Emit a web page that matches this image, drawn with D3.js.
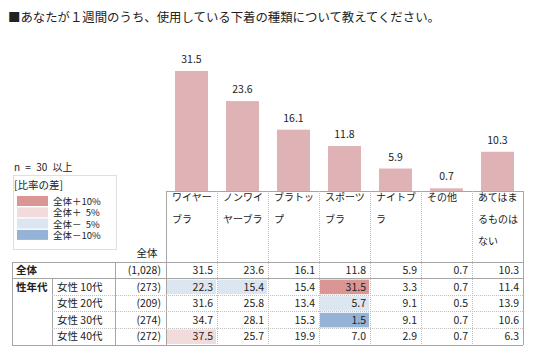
<!DOCTYPE html>
<html><head><meta charset="utf-8">
<script src="https://cdn.jsdelivr.net/npm/d3@7"></script>
<style>body{margin:0;background:#fff}svg{display:block}text{font-family:"Noto Sans CJK JP","Noto Sans",sans-serif;fill:#222}</style>
</head><body><svg id="c" width="536" height="360"></svg>
<script>
const title = "■あなたが１週間のうち、使用している下着の種類について教えてください。";
const categories = ["ワイヤーブラ","ノンワイヤーブラ","ブラトップ","スポーツブラ","ナイトブラ","その他","あてはまるものはない"];
const totalN = "(1,028)";
const totalValues = [31.5,23.6,16.1,11.8,5.9,0.7,10.3];
const groupLabel = "性年代";
const rowLabels = ["女性 10代","女性 20代","女性 30代","女性 40代"];
const rowN = ["(273)","(209)","(274)","(272)"];
const rowValues = [
  [22.3,15.4,15.4,31.5,3.3,0.7,11.4],
  [31.6,25.8,13.4,5.7,9.1,0.5,13.9],
  [34.7,28.1,15.3,1.5,9.1,0.7,10.6],
  [37.5,25.7,19.9,7.0,2.9,0.7,6.3]
];
const legendLabels = ["全体＋10%","全体＋ 5%","全体－ 5%","全体－10%"];
const legendColors = ["#d99694","#f2dcdb","#dce6f1","#95b3d7"];

const svg = d3.select("#c");
const tblL = 12, col1 = 52, colN = 115, dataL = 166, dataR = 523;
const headTop = 191, headBot = 262, rowH = 16.6;
const x = d3.scaleBand().domain(d3.range(categories.length)).range([dataL, dataR]).padding(0);
const y = d3.scaleLinear().domain([0, 31.5]).range([191, 71]);
const bw = 33;

// title
svg.append("text").attr("x", 8).attr("y", 22).attr("font-size", 12.4).text(title);

// bars
svg.selectAll("rect.bar").data(totalValues).join("rect")
  .attr("x", (d,i)=>x(i)+x.bandwidth()/2-bw/2).attr("width", bw)
  .attr("y", d=>y(d)).attr("height", d=>y(0)-y(d)).attr("fill", "#dfb2b5");
svg.selectAll("text.bl").data(totalValues).join("text")
  .attr("x", (d,i)=>x(i)+x.bandwidth()/2).attr("y", d=>y(d)-8)
  .attr("text-anchor","middle").attr("font-size", 10.5).text(d=>d.toFixed(1));

// header cells
svg.append("rect").attr("x", dataL).attr("y", headTop).attr("width", dataR-dataL).attr("height", headBot-headTop).attr("fill","#fff");
categories.forEach((c,i)=>{
  const lines = c.match(/.{1,4}/g);
  lines.forEach((ln,j)=>{
    svg.append("text").attr("x", x(i)+6).attr("y", headTop+10+j*22).attr("font-size",10).text(ln);
  });
});

const grey = "#a6a6a6", dot = "#bfbfbf";
function line(x1,y1,x2,y2,stroke,dash){svg.append("line").attr("x1",x1).attr("y1",y1).attr("x2",x2).attr("y2",y2).attr("stroke",stroke).attr("stroke-width",1).attr("stroke-dasharray",dash||null).attr("shape-rendering","crispEdges");}

function fillFor(v, t){const d=v-t; if(d>=10)return legendColors[0]; if(d>=5)return legendColors[1]; if(d<=-10)return legendColors[3]; if(d<=-5)return legendColors[2]; return null;}

const fs = 10.5;
// total row
const totTop = headBot;
svg.append("text").attr("x", tblL+4).attr("y", totTop+12).attr("font-size",fs).attr("font-weight","bold").text("全体");
svg.append("text").attr("x", dataL-5).attr("y", totTop+12).attr("font-size",fs).attr("text-anchor","end").text(totalN);
totalValues.forEach((v,i)=>{
  svg.append("text").attr("x", x(i)+x.bandwidth()-4).attr("y", totTop+12).attr("font-size",fs).attr("text-anchor","end").text(v.toFixed(1));
});
svg.append("text").attr("x", 147).attr("y", headBot-5).attr("font-size",fs).attr("text-anchor","middle").text("全体");

// group rows
const gTop = totTop+rowH;
svg.append("text").attr("x", tblL+4).attr("y", gTop+12).attr("font-size",fs).attr("font-weight","bold").text(groupLabel);
rowValues.forEach((vals,r)=>{
  const ry = gTop + r*rowH;
  svg.append("text").attr("x", col1+5).attr("y", ry+12).attr("font-size",fs).text(rowLabels[r]);
  svg.append("text").attr("x", dataL-5).attr("y", ry+12).attr("font-size",fs).attr("text-anchor","end").text(rowN[r]);
  vals.forEach((v,i)=>{
    const f = fillFor(v, totalValues[i]);
    if(f) svg.append("rect").attr("x", x(i)+1).attr("y", ry+1).attr("width", x.bandwidth()-2).attr("height", rowH-2).attr("fill", f);
    svg.append("text").attr("x", x(i)+x.bandwidth()-4).attr("y", ry+12).attr("font-size",fs).attr("text-anchor","end").text(v.toFixed(1));
  });
});
const tblB = gTop + rowValues.length*rowH;

// grid lines
line(dataL, headTop, dataR, headTop, grey);
d3.range(1, categories.length).forEach(i=>line(x(i), headTop, x(i), tblB, dot, "1,1"));
line(dataL, headTop, dataL, tblB, grey);
line(dataR, headTop, dataR, tblB, grey);
line(tblL, totTop, dataR, totTop, grey);
line(tblL, gTop, dataR, gTop, grey);
line(tblL, tblB, dataR, tblB, grey);
line(tblL, totTop, tblL, tblB, grey);
line(colN, totTop, colN, tblB, grey);
line(col1, gTop, col1, tblB, grey);
d3.range(1, rowValues.length).forEach(r=>line(col1, gTop+r*rowH, dataR, gTop+r*rowH, dot, "1,1"));

// legend
svg.append("text").attr("x", 14).attr("y", 171).attr("font-size",10).style("white-space","pre").attr("word-spacing", 3).text("n = 30 以上");
svg.append("rect").attr("x", 13.5).attr("y", 175.5).attr("width", 103).attr("height", 74).attr("fill","none").attr("stroke", dot).attr("stroke-dasharray","1,1");
svg.append("text").attr("x", 14).attr("y", 189).attr("font-size",10.5).text("[比率の差]");
legendLabels.forEach((l,i)=>{
  const ly = 196 + i*11.3;
  svg.append("rect").attr("x", 17).attr("y", ly).attr("width", 31).attr("height", 10).attr("fill", legendColors[i]);
  svg.append("text").attr("x", 53).attr("y", ly+9).attr("font-size",9.5).style("white-space","pre").attr("word-spacing", 2).text(l);
});
</script></body></html>
